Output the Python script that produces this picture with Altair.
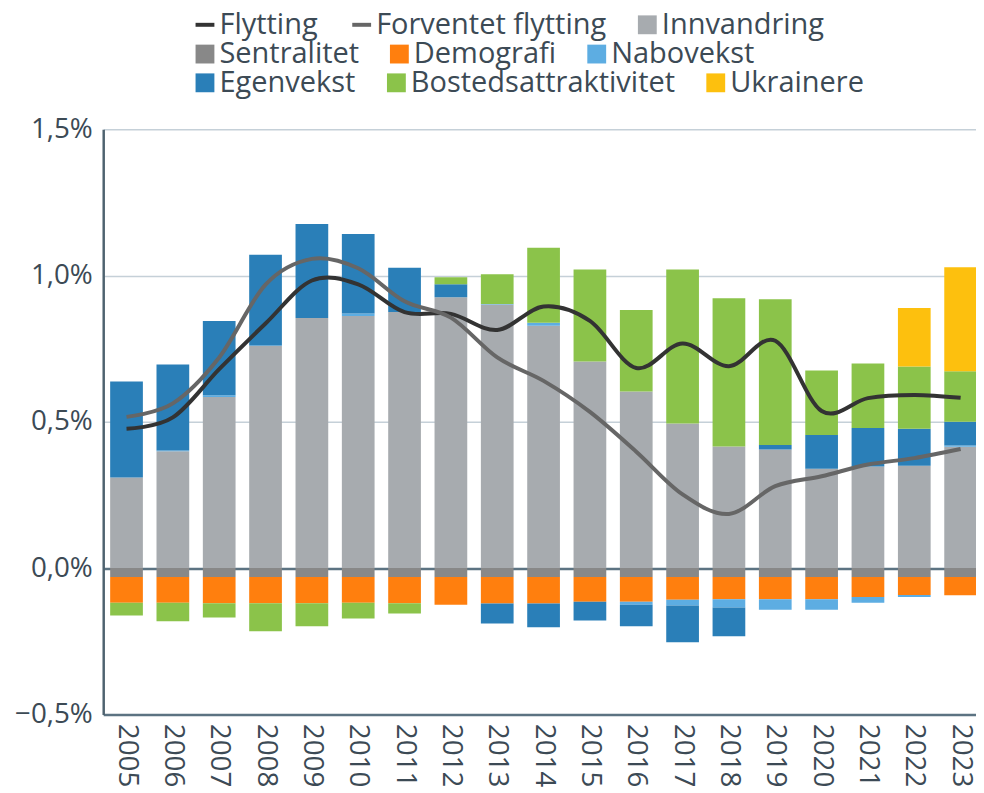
import altair as alt
import pandas as pd

years = [str(y) for y in range(2005, 2024)]

innvandring = [0.310, 0.399, 0.585, 0.759, 0.855, 0.862, 0.875, 0.926, 0.901, 0.828,
               0.706, 0.604, 0.494, 0.416, 0.405, 0.340, 0.347, 0.350, 0.415]
sentralitet = [-0.030, -0.030, -0.030, -0.030, -0.030, -0.030, -0.030, -0.030, -0.030, -0.030,
               -0.030, -0.030, -0.030, -0.030, -0.030, -0.030, -0.030, -0.030, -0.030]
demografi = [-0.088, -0.088, -0.090, -0.090, -0.090, -0.088, -0.090, -0.095, -0.091, -0.091,
             -0.085, -0.085, -0.078, -0.076, -0.076, -0.076, -0.069, -0.062, -0.063]
nabovekst = [0.000, 0.003, 0.006, 0.002, 0.000, 0.008, 0.000, 0.000, 0.002, 0.011,
             0.000, -0.010, -0.020, -0.029, -0.036, -0.036, -0.019, -0.007, 0.004]
egenvekst = [0.328, 0.294, 0.254, 0.310, 0.321, 0.272, 0.152, 0.044, -0.068, -0.081,
             -0.064, -0.074, -0.125, -0.098, 0.016, 0.115, 0.132, 0.126, 0.081]
bostedsattraktivitet = [-0.044, -0.064, -0.049, -0.096, -0.079, -0.054, -0.035, 0.024, 0.101, 0.256,
                        0.315, 0.278, 0.527, 0.506, 0.498, 0.220, 0.220, 0.213, 0.173]
ukrainere = [0, 0, 0, 0, 0, 0, 0, 0, 0, 0,
             0, 0, 0, 0, 0, 0, 0, 0.200, 0.355]

flytting = [0.476, 0.515, 0.680, 0.836, 0.983, 0.970, 0.875, 0.869, 0.814, 0.894,
            0.845, 0.684, 0.768, 0.690, 0.777, 0.537, 0.581, 0.592, 0.582]
forventet = [0.517, 0.563, 0.720, 0.969, 1.057, 1.025, 0.912, 0.856, 0.720, 0.640,
             0.534, 0.398, 0.252, 0.185, 0.280, 0.314, 0.354, 0.376, 0.407]

domain = ["Flytting", "Forventet flytting", "Innvandring", "Sentralitet", "Demografi",
          "Nabovekst", "Egenvekst", "Bostedsattraktivitet", "Ukrainere"]
colors = ["#333333", "#666666", "#A7ABAF", "#888888", "#FF7F0E",
          "#5DADE2", "#2A7FB8", "#8BC34A", "#FDC00E"]
legend_rows = [domain[0:3], domain[3:6], domain[6:9]]

components = [
    ("Innvandring", innvandring),
    ("Sentralitet", sentralitet),
    ("Demografi", demografi),
    ("Nabovekst", nabovekst),
    ("Egenvekst", egenvekst),
    ("Bostedsattraktivitet", bostedsattraktivitet),
    ("Ukrainere", ukrainere),
]
rows = []
for i, (name, vals) in enumerate(components):
    for y, v in zip(years, vals):
        if v != 0:
            rows.append({"year": y, "series": name, "value": v, "order": i})
bars_df = pd.DataFrame(rows)

lrows = []
for name, vals in [("Flytting", flytting), ("Forventet flytting", forventet)]:
    for y, v in zip(years, vals):
        lrows.append({"year": y, "series": name, "value": v})
lines_df = pd.DataFrame(lrows)

FONT = "Open Sans"
TXT = "#3C4A55"
cmap = dict(zip(domain, colors))

LEG_X = 88
LEG_Y = [-120, -90.5, -61.5]


def make_legend(i, extra=None):
    kw = dict(
        title=None, orient="none", legendX=LEG_X, legendY=LEG_Y[i], direction="horizontal",
        values=legend_rows[i], columnPadding=26,
        labelFont=FONT, labelFontSize=29.2, labelColor=TXT, labelLimit=500, labelOffset=0,
        symbolSize=361, padding=0, symbolOpacity=1,
    )
    if extra:
        kw.update(extra)
    return alt.Legend(**kw)


is_line = "(datum.label == 'Flytting' || datum.label == 'Forventet flytting')"
col_expr = ("datum.label == 'Flytting' ? '%s' : datum.label == 'Forventet flytting' ? '%s' : '%s'"
            % (cmap["Flytting"], cmap["Forventet flytting"], cmap["Innvandring"]))
legend1 = make_legend(0, dict(
    symbolType=alt.ExprRef(f"{is_line} ? 'stroke' : 'square'"),
    symbolStrokeWidth=alt.ExprRef(f"{is_line} ? 4 : 0"),
    symbolFillColor=alt.ExprRef(col_expr),
    symbolStrokeColor=alt.ExprRef(col_expr),
))

x = alt.X("year:O", title=None,
          scale=alt.Scale(range=[0, 888], paddingInner=0.294, paddingOuter=0.15),
          axis=alt.Axis(labelAngle=90, labelAlign="left", labelBaseline="middle",
                        labelFont=FONT, labelFontSize=28, labelColor=TXT, labelPadding=9,
                        ticks=False, domainColor="#5C7382", domainWidth=2.5, grid=False))
yscale = alt.Scale(domain=[-0.5, 1.5], nice=False)
yaxis = alt.Axis(values=[-0.5, 0, 0.5, 1.0, 1.5],
                 labelExpr="replace(format(datum.value, '.1f'), '.', ',') + '%'",
                 labelFont=FONT, labelFontSize=28, labelColor=TXT, labelPadding=11,
                 ticks=False, domainColor="#4F6370", domainWidth=2.5,
                 grid=True,
                 gridColor=alt.ExprRef("datum.value == 0 ? '#5C7382' : '#C5D0D8'"),
                 gridWidth=alt.ExprRef("datum.value == 0 ? 2.5 : 1.5"))

main_color = alt.Color("series:N", scale=alt.Scale(domain=domain, range=colors), legend=legend1)

bars = alt.Chart(bars_df).mark_bar().encode(
    x=x,
    y=alt.Y("value:Q", stack="zero", scale=yscale, axis=yaxis, title=None),
    color=main_color,
    order=alt.Order("order:Q"),
)

lines = alt.Chart(lines_df).mark_line(interpolate="cardinal", strokeWidth=4).encode(
    x=x,
    y=alt.Y("value:Q", scale=yscale, title=None),
    color=main_color,
)


def legend_layer(i):
    names = legend_rows[i]
    df = pd.DataFrame({"year": [years[0]] * len(names), "series": names, "value": [0.0] * len(names)})
    return alt.Chart(df).mark_bar().encode(
        x=x,
        y=alt.Y("value:Q", scale=yscale, title=None),
        color=alt.Color("series:N",
                        scale=alt.Scale(domain=names, range=[cmap[n] for n in names]),
                        legend=make_legend(i)),
    )


chart = alt.layer(alt.layer(bars, lines), legend_layer(1), legend_layer(2)).resolve_scale(
    color="independent"
).properties(
    width=880, height=590,
    autosize=alt.AutoSizeParams(type="none"),
    padding={"left": 96, "top": 119, "right": 0, "bottom": 76},
).configure_view(stroke=None)

chart.save("out.html", embed_options={"renderer": "svg", "actions": False})
